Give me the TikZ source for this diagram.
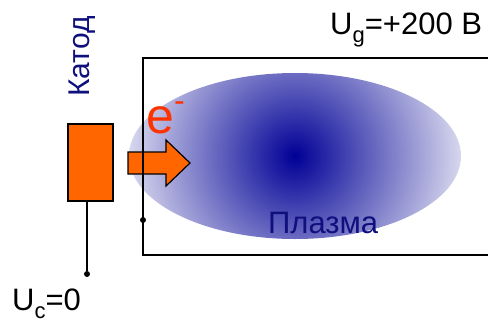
\documentclass[tikz,border=0pt]{standalone}
\usepackage{fontspec}
\setmainfont{Liberation Sans}
\definecolor{orng}{RGB}{255,102,0}
\definecolor{ered}{RGB}{255,51,0}
\definecolor{navytext}{RGB}{15,15,125}
\definecolor{plin}{RGB}{0,0,150}
\definecolor{plout}{RGB}{215,215,238}
\newcommand{\subtxt}[1]{\raisebox{-8pt}{\fontsize{22}{22}\selectfont #1}}
\tikzset{
  wire/.style={line width=1.5pt, black},
  junction/.style={circle, fill=black, inner sep=0pt, minimum size=6pt},
  lbl/.style={inner sep=0pt, font=\fontsize{31}{33}\selectfont},
}
\begin{document}
\begin{tikzpicture}[x=1pt,y=-1pt]
\useasboundingbox (0,0) rectangle (488,322);
% plasma
\begin{scope}
  \clip (295,156) ellipse [x radius=166, y radius=83];
  \shade[inner color=plin, outer color=plout] (295,156) circle [radius=166];
\end{scope}
% electron beam arrow
\draw[line width=1.2pt, fill=orng, line join=miter]
  (128,152) -- (166,152) -- (166,140) -- (190,163) -- (166,186) -- (166,174) -- (128,174) -- cycle;
% grid box (open to the right)
\coordinate (tr) at (490,58);
\coordinate (tl) at (143,58);
\coordinate (bl) at (143,255);
\coordinate (br) at (490,255);
\draw[wire] (tr) -- (tl) -- (bl) -- (br);
\node[junction] (gdot) at (143,220) {};
% cathode
\node[draw, line width=1.2pt, fill=orng, minimum width=45pt, minimum height=77pt, inner sep=0pt] (cat) at (90.5,162.5) {};
\node[junction] (cdot) at (87,274) {};
\draw[wire] (cat.south -| cdot) -- (cdot);
% labels
\node[lbl, text=navytext, rotate=90, anchor=base west, font=\fontsize{30}{32}\selectfont] (katod) at (89,97) {Катод};
\node[lbl, text=navytext, anchor=base west] (plazma) at (268,233) {Плазма};
\node[lbl, text=ered, anchor=base west, font=\fontsize{50}{52}\selectfont] (el) at (146,133) {e\raisebox{22pt}{\fontsize{32}{32}\selectfont -}};
\node[lbl, anchor=base west] (ug) at (330,34) {U\subtxt{g}=+200 B};
\node[lbl, anchor=base west] (uc) at (12,310) {U\subtxt{c}=0};
\end{tikzpicture}
\end{document}
